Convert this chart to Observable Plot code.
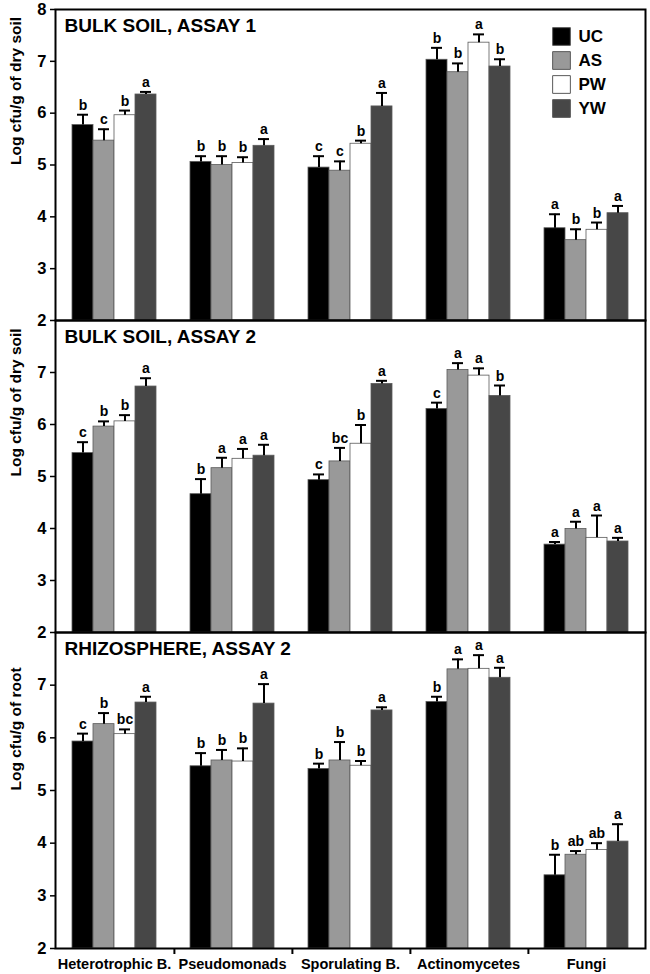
<!DOCTYPE html>
<html>
<head>
<meta charset="utf-8">
<script src="https://cdn.jsdelivr.net/npm/d3@7"></script>
<script src="https://cdn.jsdelivr.net/npm/@observablehq/plot@0.6"></script>
<style>
  body { margin: 0; background: #fff; }
  #chart { width: 650px; }
  #chart svg { display: block; max-width: none; }
</style>
</head>
<body>
<div id="chart"></div>
<script>
const categories = ["Heterotrophic B.", "Pseudomonads", "Sporulating B.", "Actinomycetes", "Fungi"];
const treatments = ["UC", "AS", "PW", "YW"];
const treatmentColors = ["#000000", "#999999", "#ffffff", "#474747"];
const panelTitles = ["BULK SOIL, ASSAY 1", "BULK SOIL, ASSAY 2", "RHIZOSPHERE, ASSAY 2"];
const yLabels = ["Log cfu/g of dry soil", "Log cfu/g of dry soil", "Log cfu/g of root"];
const yTicksTop = [2, 3, 4, 5, 6, 7, 8];
const yTicksOther = [2, 3, 4, 5, 6, 7];

// Panel 1: bulk soil, assay 1 (rows = categories, columns = UC, AS, PW, YW)
const bulk1Mean = [
  [5.77, 5.47, 5.96, 6.36],
  [5.06, 5.00, 5.04, 5.37],
  [4.95, 4.89, 5.41, 6.13],
  [7.03, 6.79, 7.36, 6.90],
  [3.78, 3.55, 3.75, 4.07]
];
const bulk1SE = [
  [0.20, 0.22, 0.09, 0.05],
  [0.11, 0.17, 0.11, 0.13],
  [0.22, 0.18, 0.06, 0.26],
  [0.23, 0.17, 0.16, 0.14],
  [0.27, 0.21, 0.14, 0.14]
];
const bulk1Letters = [
  ["b", "c", "b", "a"],
  ["b", "b", "b", "a"],
  ["c", "c", "b", "a"],
  ["b", "b", "a", "b"],
  ["a", "b", "b", "a"]
];

// Panel 2: bulk soil, assay 2
const bulk2Mean = [
  [5.45, 5.96, 6.06, 6.73],
  [4.66, 5.16, 5.34, 5.40],
  [4.93, 5.29, 5.63, 6.78],
  [6.30, 7.05, 6.94, 6.55],
  [3.69, 3.99, 3.82, 3.75]
];
const bulk2SE = [
  [0.21, 0.10, 0.12, 0.16],
  [0.29, 0.20, 0.19, 0.21],
  [0.11, 0.26, 0.36, 0.06],
  [0.12, 0.13, 0.14, 0.20],
  [0.05, 0.14, 0.43, 0.07]
];
const bulk2Letters = [
  ["c", "b", "b", "a"],
  ["b", "a", "a", "a"],
  ["c", "bc", "b", "a"],
  ["c", "a", "a", "b"],
  ["a", "a", "a", "a"]
];

// Panel 3: rhizosphere, assay 2
const rhizoMean = [
  [5.93, 6.26, 6.07, 6.67],
  [5.46, 5.57, 5.55, 6.65],
  [5.41, 5.57, 5.47, 6.52],
  [6.68, 7.30, 7.31, 7.14],
  [3.39, 3.78, 3.87, 4.03]
];
const rhizoSE = [
  [0.15, 0.21, 0.09, 0.11],
  [0.25, 0.20, 0.25, 0.37],
  [0.10, 0.35, 0.09, 0.06],
  [0.10, 0.19, 0.26, 0.19],
  [0.39, 0.07, 0.13, 0.33]
];
const rhizoLetters = [
  ["c", "b", "bc", "a"],
  ["b", "b", "b", "a"],
  ["b", "b", "b", "a"],
  ["b", "a", "a", "a"],
  ["b", "ab", "ab", "a"]
];

const panels = [
  {mean: bulk1Mean, se: bulk1SE, letters: bulk1Letters},
  {mean: bulk2Mean, se: bulk2SE, letters: bulk2Letters},
  {mean: rhizoMean, se: rhizoSE, letters: rhizoLetters}
];

// layout
const W = 650, ML = 53, MR = 4;
const OUTER = 0.72;
const FW = (W - ML - MR) / categories.length;
const STEP = FW / (treatments.length + 2 * OUTER);
const EDGE_DX = -(OUTER + 0.5) * STEP;
const heights = [320, 312, 342];
const margins = [[9, 0], [0, 0], [0, 26]];
const FONT = "'Liberation Sans', Arial, Helvetica, sans-serif";

function rowsFor(p) {
  return categories.flatMap((c, i) => treatments.map((t, j) => ({
    cat: c, trt: t, mean: p.mean[i][j], se: p.se[i][j], letter: p.letters[i][j]
  })));
}

const root = document.getElementById("chart");

panels.forEach((p, k) => {
  const rows = rowsFor(p);
  const isLast = k === panels.length - 1;
  const marks = [
    Plot.barY(rows, {fx: "cat", x: "trt", y1: 2, y2: "mean", fill: "trt", stroke: "#5a5a5a", strokeWidth: 0.8}),
    Plot.ruleX(rows, {fx: "cat", x: "trt", y1: "mean", y2: d => d.mean + d.se, stroke: "#000", strokeWidth: 2}),
    Plot.tickY(rows, {fx: "cat", x: "trt", y: d => d.mean + d.se, stroke: "#000", strokeWidth: 2, insetLeft: 5, insetRight: 5}),
    Plot.text(rows, {fx: "cat", x: "trt", y: d => d.mean + d.se, text: "letter", dy: -5, lineAnchor: "bottom", fontSize: 14, fontWeight: "bold", fill: "#000"}),
    Plot.text([panelTitles[k]], {fx: () => categories[0], frameAnchor: "top-left", dx: 9, dy: 9, lineAnchor: "top", textAnchor: "start", fontSize: 19, fontWeight: "bold", fill: "#000"}),
    Plot.text([yLabels[k]], {fx: () => categories[0], frameAnchor: "left", dx: -39, rotate: -90, fontSize: 15.5, fontWeight: "bold", fill: "#000"}),
    Plot.axisY({ticks: k === 0 ? yTicksTop : yTicksOther, tickSize: 5, tickPadding: 4, strokeWidth: 1.5, fontSize: 16.5, fontWeight: "bold", label: null, tickFormat: d => String(d)}),
    Plot.frame({facet: "super", stroke: "#000", strokeWidth: 2})
  ];
  if (k === 0) {
    treatments.forEach((t, i) => {
      marks.push(Plot.dot([t], {fx: () => "Fungi", frameAnchor: "top-left", dx: 34, dy: 27 + i * 24, symbol: "square", r: 10, fill: treatmentColors[i], stroke: "#5a5a5a", strokeWidth: 1}));
      marks.push(Plot.text([t], {fx: () => "Fungi", frameAnchor: "top-left", dx: 51, dy: 27 + i * 24, text: d => d, textAnchor: "start", lineAnchor: "middle", fontSize: 17, fontWeight: "bold", fill: "#000"}));
    });
  }
  if (isLast) {
    marks.push(Plot.ruleX(categories.slice(1), {fx: d => d, x: () => treatments[0], dx: EDGE_DX, y1: 2, y2: 2, insetBottom: -6, stroke: "#000", strokeWidth: 2}));
    marks.push(Plot.axisFx({anchor: "bottom", tickSize: 0, tickPadding: 10, fontSize: 14.5, fontWeight: "bold", label: null}));
  }
  const svg = Plot.plot({
    width: W,
    height: heights[k],
    marginLeft: ML,
    marginRight: MR,
    marginTop: margins[k][0],
    marginBottom: margins[k][1],
    style: {fontFamily: FONT, fontWeight: "bold", color: "#000", background: "transparent", overflow: "visible"},
    fx: {domain: categories, padding: 0, axis: isLast ? undefined : null, label: null},
    x: {domain: treatments, paddingInner: 0, paddingOuter: OUTER, axis: null},
    y: {domain: [2, 8]},
    color: {domain: treatments, range: treatmentColors},
    marks
  });
  root.appendChild(svg);
});
</script>
</body>
</html>
